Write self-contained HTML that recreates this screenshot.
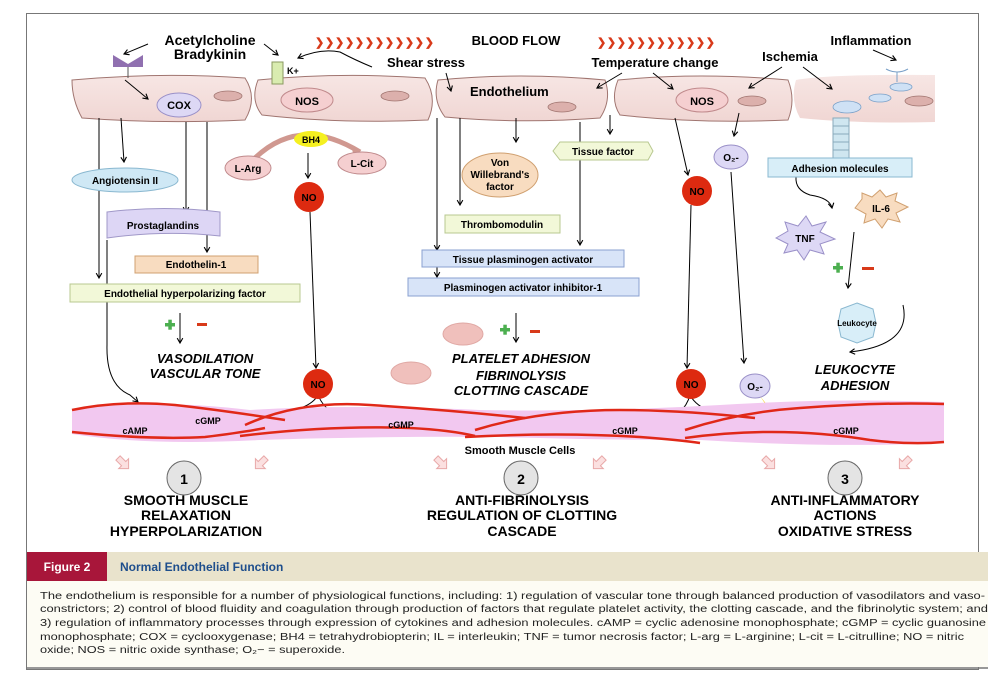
<!DOCTYPE html>
<html><head><meta charset="utf-8"><style>
html,body{margin:0;padding:0;background:#fff;}
svg{display:block;}
text{font-family:"Liberation Sans",sans-serif;font-weight:bold;}
text.n{font-weight:normal;}
</style></head><body>
<svg width="1005" height="674" viewBox="0 0 1005 674" xmlns="http://www.w3.org/2000/svg">
<defs>
<marker id="ah" viewBox="0 0 10 10" refX="8" refY="5" markerWidth="7" markerHeight="7" orient="auto"><path d="M1,1 L8,5 L1,9" fill="none" stroke="#000" stroke-width="1.6"/></marker>
<linearGradient id="cellg" x1="0" y1="0" x2="0" y2="1"><stop offset="0" stop-color="#f7e6e4"/><stop offset="1" stop-color="#f0d6d3"/></linearGradient>
</defs>
<rect x="26.5" y="13.5" width="952" height="656" fill="#fff" stroke="#777" stroke-width="1"/>

<g fill="url(#cellg)" stroke="#a07570" stroke-width="1">
<path d="M72,80 Q160,72 245,78 Q258,98 245,120 Q160,124 82,118 Q72,100 72,80Z"/>
<path d="M258,80 Q340,72 425,78 Q438,98 428,120 Q340,124 262,115 Q250,100 258,80Z"/>
<path d="M438,80 Q520,72 605,80 Q612,100 600,118 Q520,124 445,117 Q432,100 438,80Z"/>
<path d="M618,80 Q700,72 788,80 Q796,100 788,120 Q700,124 620,115 Q610,100 618,80Z"/>
<path d="M796,80 Q830,74 935,75 L935,122 Q860,124 800,118 Q790,100 796,80Z" stroke="none"/>
</g>
<g fill="#dcb0ac" stroke="#a07570" stroke-width="0.8">
<ellipse cx="228" cy="96" rx="14" ry="5"/><ellipse cx="395" cy="96" rx="14" ry="5"/>
<ellipse cx="562" cy="107" rx="14" ry="5"/><ellipse cx="752" cy="101" rx="14" ry="5"/><ellipse cx="919" cy="101" rx="14" ry="5"/>
</g>
<g fill="#cfe1f5" stroke="#7aa0c8" stroke-width="0.8">
<ellipse cx="847" cy="107" rx="14" ry="6"/><ellipse cx="880" cy="98" rx="11" ry="4"/><ellipse cx="901" cy="87" rx="11" ry="4"/>
</g>
<path d="M886,69 Q897,75 908,69" fill="none" stroke="#7aa0c8"/><line x1="897" y1="72" x2="897" y2="82" stroke="#7aa0c8"/>
<rect x="833" y="118" width="16" height="40" fill="#cfe6f0" stroke="#8ab"/>
<g stroke="#8ab"><line x1="833" y1="126" x2="849" y2="126"/><line x1="833" y1="134" x2="849" y2="134"/><line x1="833" y1="142" x2="849" y2="142"/><line x1="833" y1="150" x2="849" y2="150"/></g>

<path d="M113,55 L128,64 L143,55 L143,67 L113,67Z" fill="#9070b0"/>
<line x1="128" y1="67" x2="128" y2="78" stroke="#555"/>
<rect x="272" y="62" width="11" height="22" fill="#d9ecb0" stroke="#8a9a60"/>
<text x="287" y="74" font-size="9">K+</text>

<g stroke-width="1">
<ellipse cx="179" cy="105" rx="22" ry="12" fill="#ddd8f5" stroke="#9a90c8"/>
<ellipse cx="307" cy="100" rx="26" ry="12" fill="#f5cfd0" stroke="#c08a8c"/>
<ellipse cx="702" cy="100" rx="26" ry="12" fill="#f5cfd0" stroke="#c08a8c"/>
</g>
<text x="179" y="109" font-size="11" text-anchor="middle">COX</text>
<text x="307" y="105" font-size="11" text-anchor="middle">NOS</text>
<text x="702" y="105" font-size="11" text-anchor="middle">NOS</text>

<text x="210" y="45" font-size="14" text-anchor="middle">Acetylcholine</text>
<text x="210" y="59" font-size="14" text-anchor="middle">Bradykinin</text>
<text x="516" y="45" font-size="13" text-anchor="middle">BLOOD FLOW</text>
<text x="426" y="67" font-size="13" text-anchor="middle">Shear stress</text>
<text x="470" y="96" font-size="13">Endothelium</text>
<text x="655" y="67" font-size="13" text-anchor="middle">Temperature change</text>
<text x="790" y="61" font-size="13" text-anchor="middle">Ischemia</text>
<text x="871" y="45" font-size="13" text-anchor="middle">Inflammation</text>
<g fill="#d83a1a">
<text x="315" y="46" font-size="11" letter-spacing="-2" textLength="117">❯❯❯❯❯❯❯❯❯❯❯❯</text>
<text x="597" y="46" font-size="11" letter-spacing="-2" textLength="116">❯❯❯❯❯❯❯❯❯❯❯❯</text>
</g>

<g fill="none" stroke="#000" stroke-width="1" marker-end="url(#ah)">
<path d="M148,44 L124,54"/><path d="M264,44 L278,55"/>
<path d="M372,67 Q355,60 340,52 Q320,48 298,58"/>
<path d="M446,73 L451,91"/>
<path d="M125,80 L148,99"/>
<path d="M622,73 L597,88"/><path d="M653,73 L673,89"/>
<path d="M782,67 L749,88"/><path d="M803,67 L832,89"/>
<path d="M873,50 L896,60"/>
<path d="M99,118 L99,278"/><path d="M121,118 L124,162"/>
<path d="M186,122 L186,212"/><path d="M207,122 L207,252"/>
<path d="M308,153 L308,178"/>
<path d="M460,118 L460,205"/><path d="M516,118 L516,142"/>
<path d="M580,122 L580,245"/><path d="M610,115 L610,134"/>
<path d="M437,118 L437,250"/><path d="M437,267 L437,277"/>
<path d="M675,118 L688,175"/><path d="M739,113 L734,136"/>
<path d="M796,177 Q795,190 810,195 Q830,198 832,208"/>
<path d="M854,232 L848,288"/>
<path d="M903,305 Q912,345 850,352"/>
<path d="M107,240 L107,345 Q106,385 130,395 L138,402"/>
<path d="M180,313 L180,343"/>
<path d="M516,313 L516,342"/>
<path d="M310,212 L316,368"/>
<path d="M691,205 L687,368"/>
<path d="M731,172 L744,363"/>
<path d="M318,395 Q310,410 273,414"/>
<path d="M318,395 Q328,420 370,424"/>
<path d="M690,395 Q685,415 655,428"/>
<path d="M690,395 Q705,425 820,430"/>
</g>
<path d="M255,158 Q300,115 360,152" fill="none" stroke="#d09890" stroke-width="5"/>
<path d="M352,148 L366,157 L354,160Z" fill="#d09890"/>

<ellipse cx="125" cy="180" rx="53" ry="12" fill="#cfe8f5" stroke="#8ab8d0"/>
<text x="125" y="184" font-size="10" text-anchor="middle">Angiotensin II</text>
<path d="M107,212 Q165,205 220,212 L220,236 Q165,230 107,238Z" fill="#ddd6f5" stroke="#a098c8"/>
<text x="163" y="229" font-size="10" text-anchor="middle">Prostaglandins</text>
<rect x="135" y="256" width="123" height="17" fill="#f8dcc0" stroke="#d0a070"/>
<text x="196" y="268" font-size="10" text-anchor="middle">Endothelin-1</text>
<rect x="70" y="284" width="230" height="18" fill="#f2f8d8" stroke="#b8c890"/>
<text x="185" y="297" font-size="10" text-anchor="middle">Endothelial hyperpolarizing factor</text>

<ellipse cx="311" cy="139" rx="17" ry="8" fill="#f5f020"/>
<text x="311" y="143" font-size="9" text-anchor="middle">BH4</text>
<ellipse cx="248" cy="168" rx="23" ry="12" fill="#f5cfd0" stroke="#c08a8c"/>
<text x="248" y="172" font-size="10" text-anchor="middle">L-Arg</text>
<ellipse cx="362" cy="163" rx="24" ry="11" fill="#f5cfd0" stroke="#c08a8c"/>
<text x="362" y="167" font-size="10" text-anchor="middle">L-Cit</text>

<g fill="#dd2a10"><circle cx="309" cy="197" r="15"/><circle cx="318" cy="384" r="15"/><circle cx="697" cy="191" r="15"/><circle cx="691" cy="384" r="15"/></g>
<g font-size="10" text-anchor="middle"><text x="309" y="201">NO</text><text x="318" y="388">NO</text><text x="697" y="195">NO</text><text x="691" y="388">NO</text></g>
<ellipse cx="731" cy="157" rx="17" ry="12" fill="#ddd8f5" stroke="#9a90c8"/>
<text x="731" y="161" font-size="10" text-anchor="middle">O₂-</text>
<ellipse cx="755" cy="386" rx="15" ry="12" fill="#ddd8f5" stroke="#9a90c8"/>
<text x="755" y="390" font-size="10" text-anchor="middle">O₂-</text>
<path d="M760,396 L768,408 L764,408 L775,420 L767,410 L771,410 Z" fill="#f5d020"/>

<ellipse cx="500" cy="175" rx="38" ry="22" fill="#f8dcc0" stroke="#d0a070"/>
<text x="500" y="166" font-size="10" text-anchor="middle">Von</text>
<text x="500" y="178" font-size="10" text-anchor="middle">Willebrand's</text>
<text x="500" y="190" font-size="10" text-anchor="middle">factor</text>
<path d="M560,142 L648,142 L653,151 L648,160 L560,160 L553,151Z" fill="#f2f8d8" stroke="#b8c890"/>
<text x="603" y="155" font-size="10" text-anchor="middle">Tissue factor</text>
<rect x="445" y="215" width="115" height="18" fill="#f2f8d8" stroke="#b8c890"/>
<text x="502" y="228" font-size="10" text-anchor="middle">Thrombomodulin</text>
<rect x="422" y="250" width="202" height="17" fill="#d8e4f8" stroke="#8aa0d0"/>
<text x="523" y="263" font-size="10" text-anchor="middle">Tissue plasminogen activator</text>
<rect x="408" y="278" width="231" height="18" fill="#d8e4f8" stroke="#8aa0d0"/>
<text x="523" y="291" font-size="10" text-anchor="middle">Plasminogen activator inhibitor-1</text>

<rect x="768" y="158" width="144" height="19" fill="#d8eef8" stroke="#8ab8d0"/>
<text x="840" y="172" font-size="10" text-anchor="middle">Adhesion molecules</text>
<path d="M855,208 L862,199 L862,193 L872,197 L880,190 L886,197 L897,193 L895,201 L908,207 L896,213 L900,222 L888,219 L882,228 L875,219 L864,223 L866,214Z" fill="#f8dcc0" stroke="#d0a070"/>
<text x="881" y="212" font-size="10" text-anchor="middle">IL-6</text>
<path d="M776,238 L788,231 L785,222 L798,226 L806,216 L812,226 L826,222 L820,232 L835,239 L820,244 L824,254 L810,250 L804,260 L797,250 L784,253 L788,244Z" fill="#ddd8f5" stroke="#9a90c8"/>
<text x="805" y="242" font-size="10" text-anchor="middle">TNF</text>
<path d="M857,303 L873,309 L876,323 L873,337 L857,343 L841,337 L838,323 L841,309Z" fill="#d8eef8" stroke="#8ab8d0"/>
<text x="857" y="326" font-size="8" text-anchor="middle">Leukocyte</text>

<g fill="#4caf50"><rect x="165" y="323" width="10" height="3.5"/><rect x="168.3" y="319.7" width="3.5" height="10"/>
<rect x="500" y="328" width="10" height="3.5"/><rect x="503.3" y="324.7" width="3.5" height="10"/>
<rect x="833" y="266" width="10" height="3.5"/><rect x="836.3" y="262.7" width="3.5" height="10"/></g>
<g fill="#d83a1a"><rect x="197" y="323" width="10" height="3"/><rect x="530" y="330" width="10" height="3"/><rect x="862" y="267" width="12" height="3"/></g>

<ellipse cx="463" cy="334" rx="20" ry="11" fill="#f0c0bc" stroke="#e0a8a4"/>
<ellipse cx="411" cy="373" rx="20" ry="11" fill="#f0c0bc" stroke="#e0a8a4"/>

<g font-size="13" font-style="italic" text-anchor="middle">
<text x="205" y="363">VASODILATION</text><text x="205" y="378">VASCULAR TONE</text>
<text x="521" y="363">PLATELET ADHESION</text><text x="521" y="380">FIBRINOLYSIS</text><text x="521" y="395">CLOTTING CASCADE</text>
<text x="855" y="374">LEUKOCYTE</text><text x="855" y="390">ADHESION</text>
</g>

<path d="M72,410 Q150,398 250,410 Q350,404 480,410 Q600,412 720,405 Q830,398 944,402 L944,443 Q830,448 700,440 Q600,440 500,437 Q380,436 260,440 Q150,446 72,434Z" fill="#f2c8f0"/>
<g fill="none" stroke="#e02818" stroke-width="2.5">
<path d="M72,410 Q120,400 175,405 Q220,410 285,420"/>
<path d="M245,425 Q300,400 370,405 Q450,410 525,418"/>
<path d="M475,430 Q540,410 620,410 Q680,410 755,418"/>
<path d="M685,430 Q740,412 800,408 Q880,402 944,404"/>
<path d="M72,432 Q150,440 205,437 Q245,432 265,428"/>
<path d="M240,436 Q330,425 410,428 Q450,430 475,436"/>
<path d="M465,437 Q560,432 640,437 Q680,440 700,443"/>
<path d="M685,438 Q780,425 870,440 Q910,445 944,442"/>
</g>
<g font-size="9" text-anchor="middle"><text x="135" y="434">cAMP</text><text x="208" y="424">cGMP</text><text x="401" y="428">cGMP</text><text x="625" y="434">cGMP</text><text x="846" y="434">cGMP</text></g>
<text x="520" y="454" font-size="11" text-anchor="middle">Smooth Muscle Cells</text>

<g fill="#fbe0e0" stroke="#e8a8a8" stroke-width="1">
<g transform="translate(118,458) rotate(45)"><path d="M0,-3 L8,-3 L8,-7 L15,0 L8,7 L8,3 L0,3Z"/></g>
<g transform="translate(266,458) rotate(135)"><path d="M0,-3 L8,-3 L8,-7 L15,0 L8,7 L8,3 L0,3Z"/></g>
<g transform="translate(436,458) rotate(45)"><path d="M0,-3 L8,-3 L8,-7 L15,0 L8,7 L8,3 L0,3Z"/></g>
<g transform="translate(604,458) rotate(135)"><path d="M0,-3 L8,-3 L8,-7 L15,0 L8,7 L8,3 L0,3Z"/></g>
<g transform="translate(764,458) rotate(45)"><path d="M0,-3 L8,-3 L8,-7 L15,0 L8,7 L8,3 L0,3Z"/></g>
<g transform="translate(910,458) rotate(135)"><path d="M0,-3 L8,-3 L8,-7 L15,0 L8,7 L8,3 L0,3Z"/></g>
</g>
<g fill="#e4e4e4" stroke="#666"><circle cx="184" cy="478" r="17"/><circle cx="521" cy="478" r="17"/><circle cx="845" cy="478" r="17"/></g>
<g font-size="14" text-anchor="middle"><text x="184" y="484">1</text><text x="521" y="484">2</text><text x="845" y="484">3</text></g>
<g font-size="14" text-anchor="middle">
<text x="186" y="505">SMOOTH MUSCLE</text><text x="186" y="520">RELAXATION</text><text x="186" y="536">HYPERPOLARIZATION</text>
<text x="522" y="505">ANTI-FIBRINOLYSIS</text><text x="522" y="520">REGULATION OF CLOTTING</text><text x="522" y="536">CASCADE</text>
<text x="845" y="505">ANTI-INFLAMMATORY</text><text x="845" y="520">ACTIONS</text><text x="845" y="536">OXIDATIVE STRESS</text>
</g>

<rect x="27" y="552" width="961" height="29" fill="#e9e3cc"/>
<rect x="27" y="552" width="80" height="29" fill="#a8163a"/>
<text x="67" y="571" font-size="12" fill="#fff" text-anchor="middle">Figure 2</text>
<text x="120" y="571" font-size="12" fill="#1e4e8c">Normal Endothelial Function</text>
<rect x="27" y="581" width="961" height="86" fill="#fdfcf4"/>
<line x1="27" y1="668" x2="988" y2="668" stroke="#777" stroke-width="1.5"/>
<g font-size="10" fill="#222">
<text class="n" x="40" y="599" textLength="945" lengthAdjust="spacingAndGlyphs">The endothelium is responsible for a number of physiological functions, including: 1) regulation of vascular tone through balanced production of vasodilators and vaso-</text>
<text class="n" x="40" y="612" textLength="948" lengthAdjust="spacingAndGlyphs">constrictors; 2) control of blood fluidity and coagulation through production of factors that regulate platelet activity, the clotting cascade, and the fibrinolytic system; and</text>
<text class="n" x="40" y="626" textLength="946" lengthAdjust="spacingAndGlyphs">3) regulation of inflammatory processes through expression of cytokines and adhesion molecules. cAMP = cyclic adenosine monophosphate; cGMP = cyclic guanosine</text>
<text class="n" x="40" y="640" textLength="924" lengthAdjust="spacingAndGlyphs">monophosphate; COX = cyclooxygenase; BH4 = tetrahydrobiopterin; IL = interleukin; TNF = tumor necrosis factor; L-arg = L-arginine; L-cit = L-citrulline; NO = nitric</text>
<text class="n" x="40" y="653" textLength="305" lengthAdjust="spacingAndGlyphs">oxide; NOS = nitric oxide synthase; O₂− = superoxide.</text>
</g>
</svg>
</body></html>
